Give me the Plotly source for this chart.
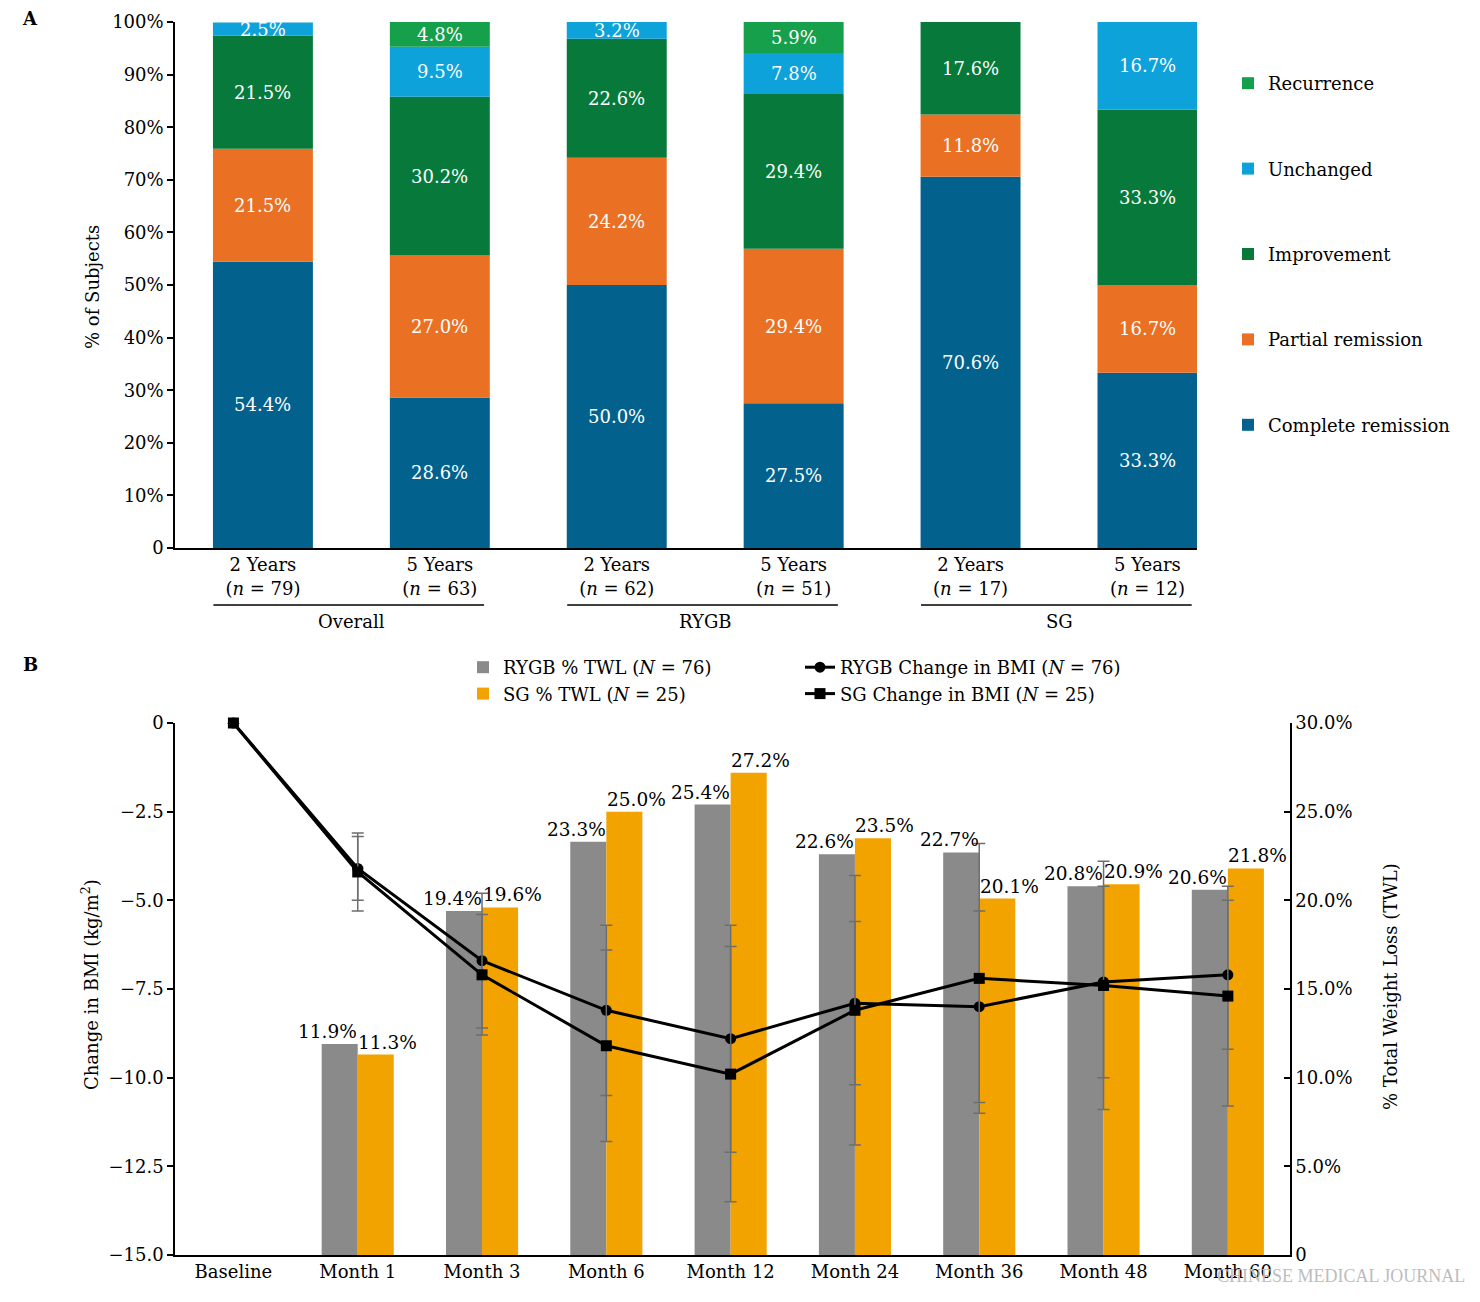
import plotly.graph_objects as go

FONT = "DejaVu Serif"

# ---------------- Panel A data ----------------
a_tick_labels = ["2 Years<br>(<i>n</i> = 79)", "5 Years<br>(<i>n</i> = 63)",
                 "2 Years<br>(<i>n</i> = 62)", "5 Years<br>(<i>n</i> = 51)",
                 "2 Years<br>(<i>n</i> = 17)", "5 Years<br>(<i>n</i> = 12)"]
a_groups = ["Overall", "RYGB", "SG"]
complete_remission = [54.4, 28.6, 50.0, 27.5, 70.6, 33.3]
partial_remission = [21.5, 27.0, 24.2, 29.4, 11.8, 16.7]
improvement = [21.5, 30.2, 22.6, 29.4, 17.6, 33.3]
unchanged = [2.5, 9.5, 3.2, 7.8, 0.0, 16.7]
recurrence = [0.0, 4.8, 0.0, 5.9, 0.0, 0.0]
a_series_names = ["Complete remission", "Partial remission", "Improvement", "Unchanged", "Recurrence"]
a_colors = ["#02628D", "#EA7024", "#077A3B", "#0DA2DA", "#17A04B"]
a_yticks = [0, 10, 20, 30, 40, 50, 60, 70, 80, 90, 100]
a_yticklabels = ["0", "10%", "20%", "30%", "40%", "50%", "60%", "70%", "80%", "90%", "100%"]

# ---------------- Panel B data ----------------
b_categories = ["Baseline", "Month 1", "Month 3", "Month 6", "Month 12",
                "Month 24", "Month 36", "Month 48", "Month 60"]
rygb_twl = [None, 11.9, 19.4, 23.3, 25.4, 22.6, 22.7, 20.8, 20.6]
sg_twl = [None, 11.3, 19.6, 25.0, 27.2, 23.5, 20.1, 20.9, 21.8]
rygb_bmi = [0, -4.1, -6.7, -8.1, -8.9, -7.9, -8.0, -7.3, -7.1]
rygb_bmi_sd = [None, 0.9, 1.9, 2.4, 3.2, 2.3, 2.7, 2.7, 2.1]
sg_bmi = [0, -4.2, -7.1, -9.1, -9.9, -8.1, -7.2, -7.4, -7.7]
sg_bmi_sd = [None, 1.1, 1.7, 2.7, 3.6, 3.8, 3.8, 3.5, 3.1]
bmi_ticks = [0, -2.5, -5.0, -7.5, -10.0, -12.5, -15.0]
bmi_ticklabels = ["0", "\u22122.5", "\u22125.0", "\u22127.5", "\u221210.0", "\u221212.5", "\u221215.0"]
twl_ticks = [0, 5, 10, 15, 20, 25, 30]
twl_ticklabels = ["0", "5.0%", "10.0%", "15.0%", "20.0%", "25.0%", "30.0%"]

W, H = 1480, 1302


def px(x):
    return x / W


def py(y):
    return 1 - y / H


fig = go.Figure()

# ---------- Panel A: stacked bars ----------
a_series = [complete_remission, partial_remission, improvement, unchanged, recurrence]
a_x = list(range(len(a_tick_labels)))
base = [0.0] * len(a_x)
annotations = []
n_series = len(a_series_names)
for k, (name, vals, col) in enumerate(zip(a_series_names, a_series, a_colors)):
    fig.add_trace(go.Bar(
        x=a_x, y=vals, base=list(base), name=name, marker_color=col,
        marker_line_width=0, width=0.565, xaxis="x", yaxis="y",
        legend="legend", legendgroup=name, legendrank=n_series - k, showlegend=True,
    ))
    for i, v in enumerate(vals):
        if v > 0:
            annotations.append(dict(
                x=i, y=base[i] + v / 2, xref="x", yref="y", text=f"{v:.1f}%",
                showarrow=False, xanchor="center", yanchor="middle",
                font=dict(family=FONT, size=18, color="white"),
            ))
    base = [b + v for b, v in zip(base, vals)]

# group underline + labels
shapes = []
for g, label in enumerate(a_groups):
    shapes.append(dict(type="line", xref="x", yref="paper",
                       x0=2 * g - 0.28, x1=2 * g + 1.25, y0=py(605), y1=py(605),
                       line=dict(color="black", width=1.5)))
    annotations.append(dict(x=2 * g + 0.5, y=py(621), xref="x", yref="paper",
                            text=label, showarrow=False, xanchor="center", yanchor="middle",
                            font=dict(family=FONT, size=18, color="black")))

# ---------- Panel B: bars (TWL) ----------
fig.add_trace(go.Bar(
    x=b_categories, y=rygb_twl, name="RYGB % TWL (<i>N</i> = 76)",
    marker_color="#8A8A8A", marker_line_width=0, width=0.29, offset=-0.29,
    xaxis="x2", yaxis="y2", legend="legend2",
))
fig.add_trace(go.Bar(
    x=b_categories, y=sg_twl, name="SG % TWL (<i>N</i> = 25)",
    marker_color="#F2A300", marker_line_width=0, width=0.29, offset=0.0,
    xaxis="x2", yaxis="y2", legend="legend2",
))
for vals, shift in ((rygb_twl, -30), (sg_twl, 30)):
    for c, v in zip(b_categories, vals):
        if v is not None:
            annotations.append(dict(
                x=c, y=v, xref="x2", yref="y2", text=f"{v:.1f}%", xshift=shift,
                xanchor="center", yanchor="bottom", showarrow=False,
                font=dict(family=FONT, size=18.5, color="black"),
            ))

# ---------- Panel B: lines (BMI) ----------
fig.add_trace(go.Scatter(
    x=b_categories, y=rygb_bmi, name="RYGB Change in BMI (<i>N</i> = 76)",
    mode="lines+markers", line=dict(color="black", width=3),
    marker=dict(symbol="circle", size=11, color="black"),
    error_y=dict(type="data", array=rygb_bmi_sd, color="#6E6E6E", thickness=1.5, width=6),
    xaxis="x2", yaxis="y3", legend="legend3", cliponaxis=False,
))
fig.add_trace(go.Scatter(
    x=b_categories, y=sg_bmi, name="SG Change in BMI (<i>N</i> = 25)",
    mode="lines+markers", line=dict(color="black", width=3),
    marker=dict(symbol="square", size=11, color="black"),
    error_y=dict(type="data", array=sg_bmi_sd, color="#6E6E6E", thickness=1.5, width=6),
    xaxis="x2", yaxis="y3", legend="legend3", cliponaxis=False,
))

# ---------- texts ----------
def label(x, y, text, size=18, angle=0, color="black", family=FONT, xanchor="center"):
    return dict(x=px(x), y=py(y), xref="paper", yref="paper", text=text, textangle=angle,
                showarrow=False, xanchor=xanchor, yanchor="middle",
                font=dict(family=family, size=size, color=color))


annotations += [
    label(30, 18, "<b>A</b>"),
    label(30, 664, "<b>B</b>"),
    label(92, 287, "% of Subjects", angle=-90),
    label(90, 985, "Change in BMI (kg/m<sup>2</sup>)", angle=-90),
    label(1390, 987, "% Total Weight Loss (TWL)", angle=-90),
    label(1467, 1276, "CHINESE MEDICAL JOURNAL", size=18, color="#BDBDBD",
          family="Liberation Serif", xanchor="right"),
]

axis_font = dict(family=FONT, size=18, color="black")

fig.update_layout(
    width=W, height=H,
    margin=dict(l=0, r=0, t=0, b=0, autoexpand=False),
    paper_bgcolor="white", plot_bgcolor="white",
    barmode="overlay",
    font=dict(family=FONT, size=18, color="black"),
    xaxis=dict(domain=[px(175), px(1197)], anchor="y", range=[-0.497, 5.28],
               tickvals=a_x, ticktext=a_tick_labels, tickfont=axis_font,
               showline=True, linecolor="black", linewidth=1.5, ticks="",
               showgrid=False, zeroline=False, automargin=False),
    yaxis=dict(domain=[py(548), py(22)], anchor="x", range=[0, 100],
               tickvals=a_yticks, ticktext=a_yticklabels, tickfont=axis_font,
               showline=True, linecolor="black", linewidth=1.5, ticks="outside",
               ticklen=6, tickwidth=1.5, tickcolor="black",
               showgrid=False, zeroline=False, automargin=False),
    xaxis2=dict(domain=[px(175), px(1290)], anchor="y2", type="category", range=[-0.47, 8.5],
                tickfont=axis_font, showline=True, linecolor="black", linewidth=1.5,
                ticks="", showgrid=False, zeroline=False, automargin=False),
    yaxis2=dict(domain=[py(1255), py(723)], anchor="x2", side="right", range=[0, 30],
                tickvals=twl_ticks, ticktext=twl_ticklabels, tickfont=axis_font,
                showline=True, linecolor="black", linewidth=1.5, ticks="inside",
                ticklen=6, tickwidth=1.5, tickcolor="black", showgrid=False, zeroline=False,
                automargin=False),
    yaxis3=dict(overlaying="y2", anchor="x2", side="left", range=[-15, 0],
                tickvals=bmi_ticks, ticktext=bmi_ticklabels, tickfont=axis_font,
                showline=True, linecolor="black", linewidth=1.5, ticks="outside",
                ticklen=6, tickwidth=1.5, tickcolor="black", showgrid=False, zeroline=False,
                automargin=False),
    legend=dict(x=px(1228), y=py(65), xanchor="left", yanchor="top",
                traceorder="grouped", tracegroupgap=59,
                font=dict(family=FONT, size=18, color="black"), bgcolor="rgba(0,0,0,0)"),
    legend2=dict(x=px(463), y=py(649), xanchor="left", yanchor="top",
                 font=dict(family=FONT, size=18, color="black"), bgcolor="rgba(0,0,0,0)"),
    legend3=dict(x=px(800), y=py(649), xanchor="left", yanchor="top",
                 font=dict(family=FONT, size=18, color="black"), bgcolor="rgba(0,0,0,0)"),
    annotations=annotations,
    shapes=shapes,
)

fig.write_html("out.html")
